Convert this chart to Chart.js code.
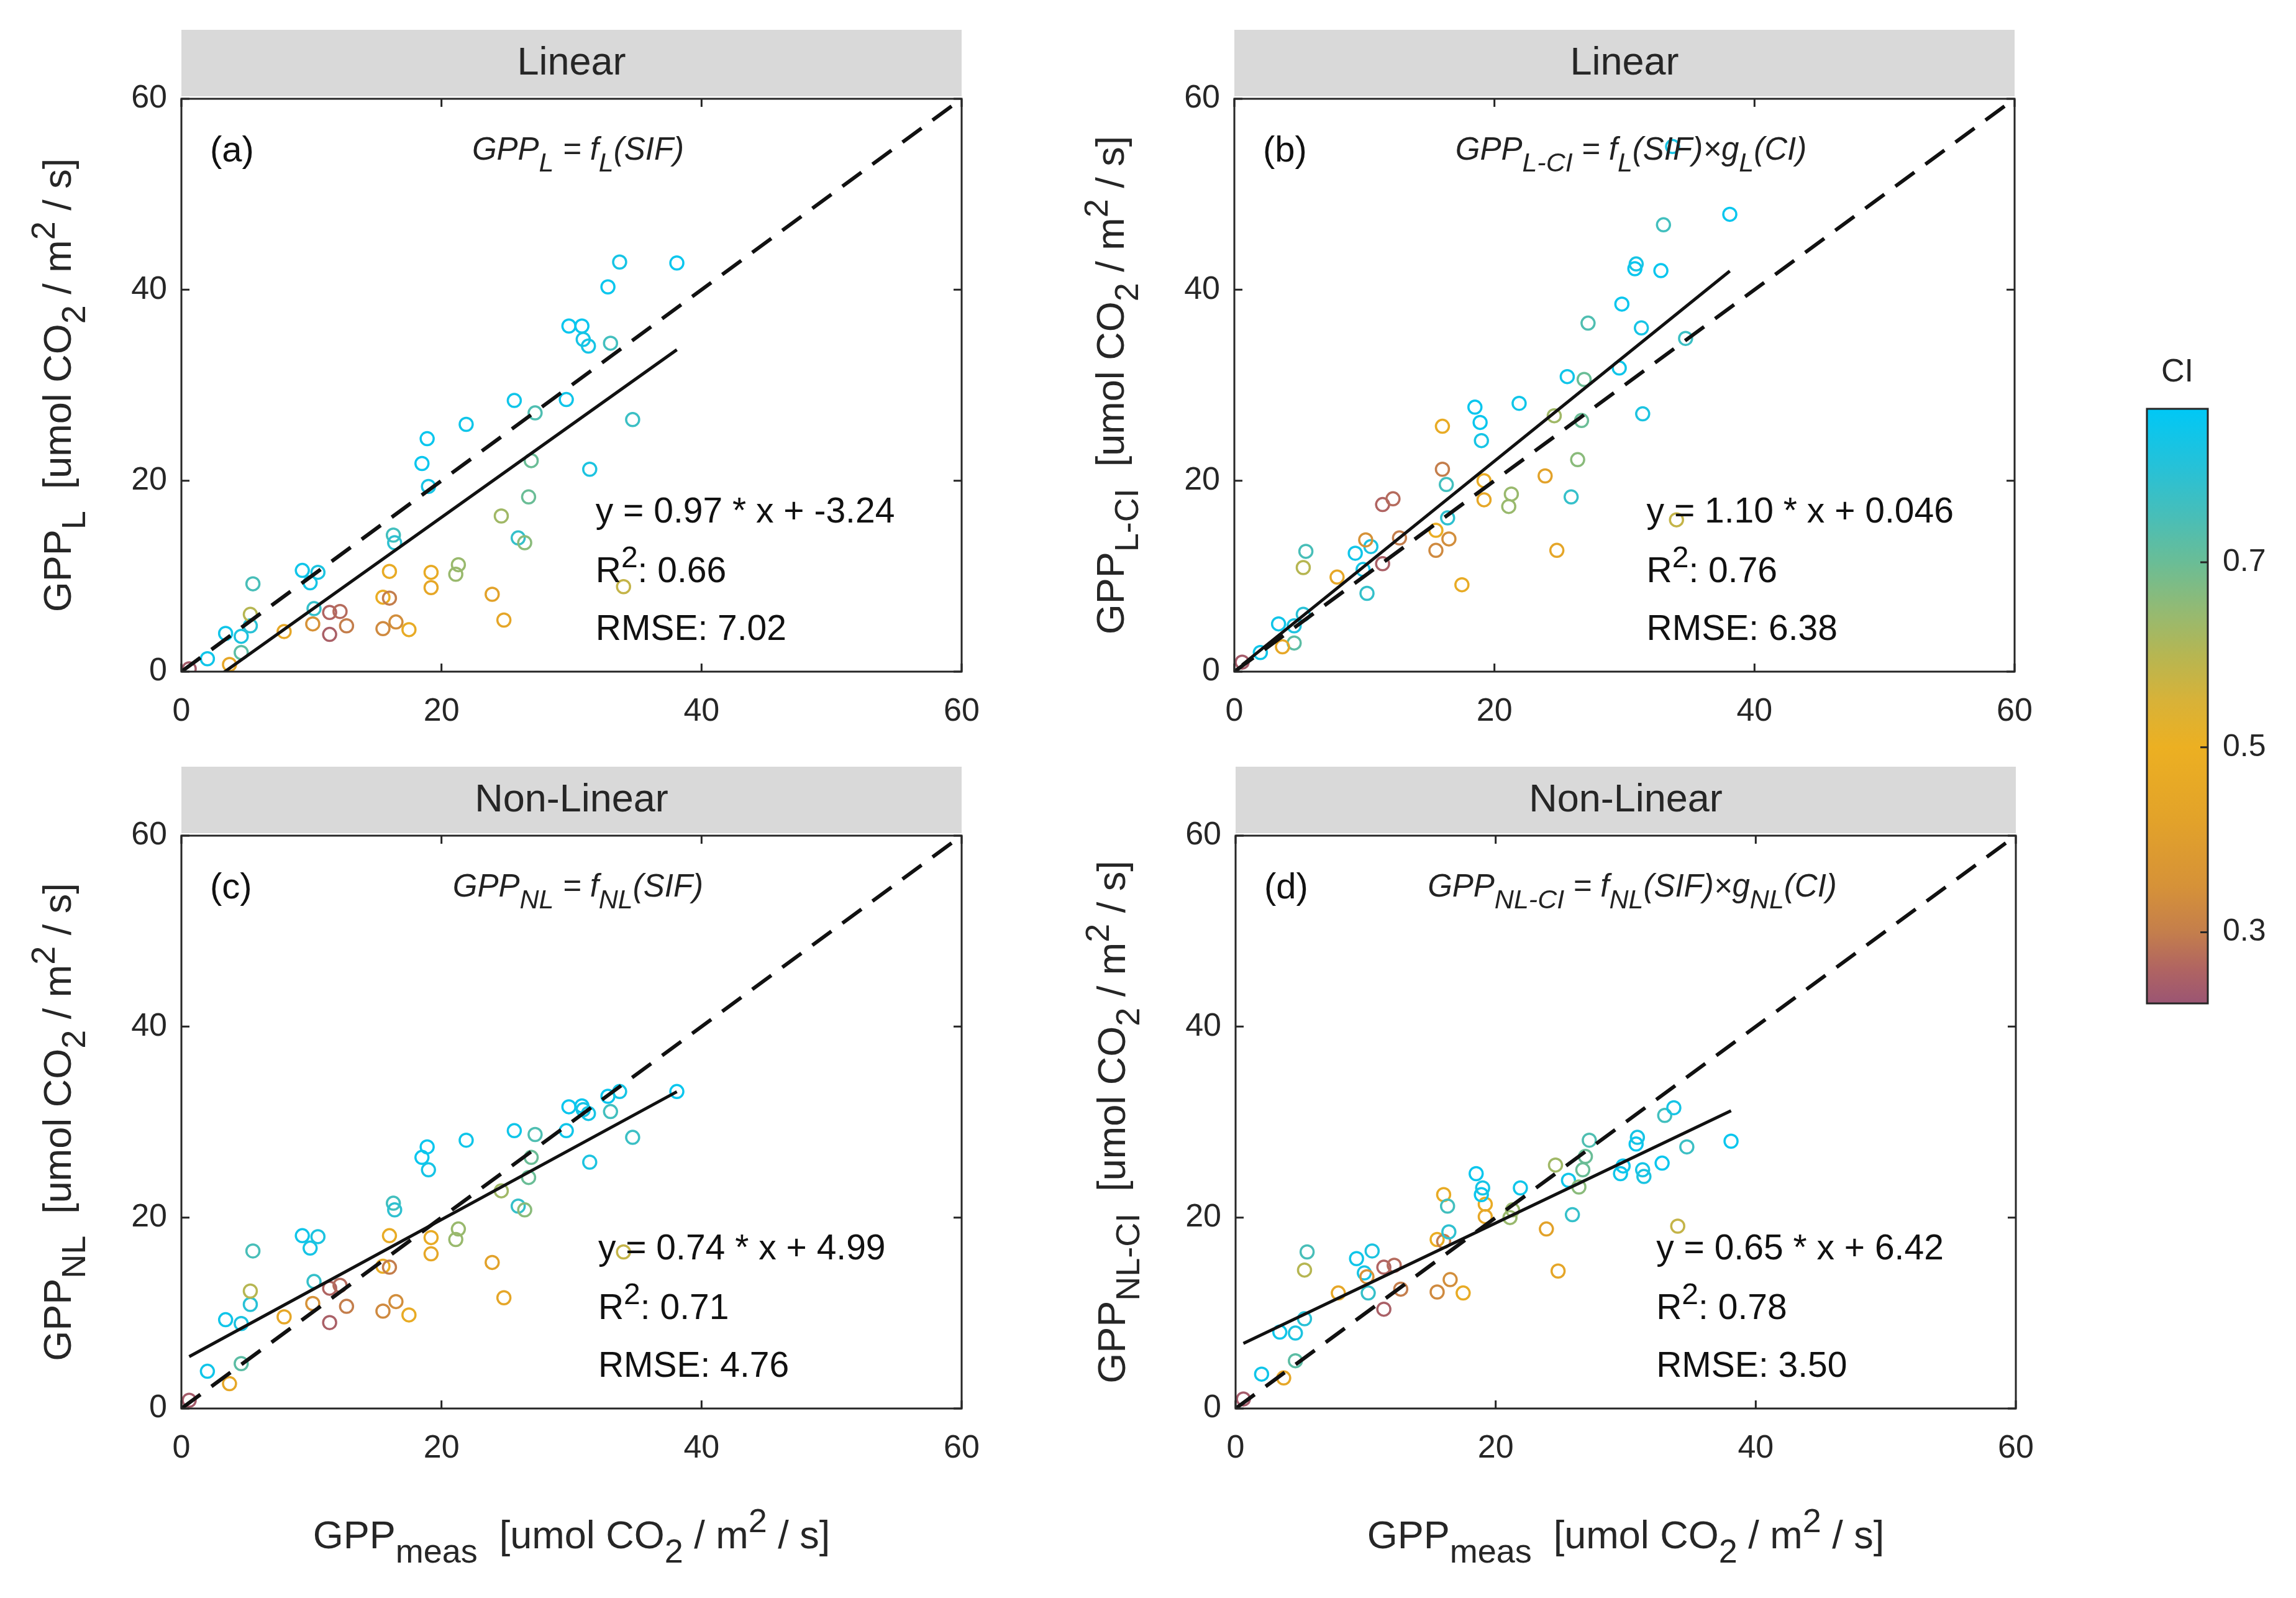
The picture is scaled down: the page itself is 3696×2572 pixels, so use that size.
<!DOCTYPE html>
<html>
<head>
<meta charset="utf-8">
<script src="https://cdn.jsdelivr.net/npm/chart.js@4.4.1/dist/chart.umd.min.js"></script>
<style>
html, body { margin: 0; padding: 0; background: #fff; }
#page { position: relative; width: 3696px; height: 2572px; background: #fff; overflow: hidden; }
canvas { position: absolute; }
</style>
</head>
<body>
<div id="page">
  <canvas id="panel-a" width="1690" height="1186" style="left:0px;top:0px"></canvas>
  <canvas id="panel-b" width="1690" height="1186" style="left:1695px;top:0px"></canvas>
  <canvas id="panel-c" width="1690" height="1386" style="left:0px;top:1186px"></canvas>
  <canvas id="panel-d" width="1690" height="1386" style="left:1697px;top:1186px"></canvas>
  <canvas id="colorbar" width="296" height="1200" style="left:3400px;top:500px"></canvas>
</div>
<script>
const FONT = "'Liberation Sans', Arial, Helvetica, sans-serif";
const INK = '#262626';

// axis ticks
const axisTicks = [0, 20, 40, 60];
const ciTicks = [0.3, 0.5, 0.7];
const ciMin = 0.223;
const ciMax = 0.866;

// measured GPP (shared x of every panel) and clumping index of each site-day
const gppMeas = [0.6, 2.0, 3.4, 4.6, 5.3, 4.6, 3.7, 5.3, 5.5, 7.9,
  9.3, 9.9, 10.5, 10.2, 10.1, 11.4, 12.2, 11.4, 12.7, 15.5,
  16.0, 16.0, 15.5, 16.5, 17.5, 16.3, 16.4, 19.2, 19.2, 18.5,
  18.9, 19.0, 21.9, 21.1, 21.3, 23.9, 24.8, 24.6, 25.6, 25.9,
  26.4, 26.7, 26.9, 27.2, 29.6, 29.8, 30.8, 30.9, 31.3, 31.4,
  32.8, 33.0, 33.7, 34.0, 34.7, 38.1];
const ciValues = [0.24, 0.84, 0.84, 0.82, 0.80, 0.72, 0.45, 0.60, 0.75, 0.45,
  0.84, 0.83, 0.82, 0.78, 0.35, 0.26, 0.27, 0.25, 0.30, 0.48,
  0.30, 0.47, 0.33, 0.34, 0.47, 0.76, 0.79, 0.47, 0.45, 0.85,
  0.85, 0.83, 0.84, 0.64, 0.64, 0.42, 0.44, 0.63, 0.84, 0.78,
  0.66, 0.70, 0.70, 0.74, 0.84, 0.85, 0.85, 0.83, 0.83, 0.82,
  0.85, 0.76, 0.83, 0.58, 0.77, 0.85];

// modelled GPP per panel
const gppL = [0.3, 1.35, 4.0, 3.7, 4.8, 2.0, 0.75, 6.0, 9.2, 4.2,
  10.6, 9.3, 10.4, 6.6, 5.0, 6.2, 6.3, 3.9, 4.8, 7.8,
  7.7, 10.5, 4.5, 5.2, 4.4, 14.3, 13.5, 10.4, 8.8, 21.8,
  24.4, 19.4, 25.9, 10.2, 11.2, 8.1, 5.4, 16.3, 28.4, 14.0,
  13.5, 18.3, 22.1, 27.1, 28.5, 36.2, 36.2, 34.8, 34.1, 21.2,
  40.3, 34.4, 42.9, 8.9, 26.4, 42.8];
const gppLCI = [1.0, 2.0, 5.0, 4.8, 6.0, 3.0, 2.6, 10.9, 12.6, 9.9,
  12.4, 10.7, 13.1, 8.2, 13.8, 17.5, 18.1, 11.3, 14.0, 14.8,
  21.2, 25.7, 12.7, 13.9, 9.1, 19.6, 16.1, 20.0, 18.0, 27.7,
  26.1, 24.2, 28.1, 17.3, 18.6, 20.5, 12.7, 26.8, 30.9, 18.3,
  22.2, 26.3, 30.6, 36.5, 31.8, 38.5, 42.2, 42.7, 36.0, 27.0,
  42.0, 46.8, 55.0, 15.9, 34.9, 47.9];
const gppNL = [0.86, 3.9, 9.3, 8.9, 10.9, 4.7, 2.6, 12.3, 16.5, 9.6,
  18.1, 16.8, 18.0, 13.3, 11.0, 12.6, 12.9, 9.0, 10.7, 14.9,
  14.8, 18.1, 10.2, 11.2, 9.8, 21.5, 20.8, 17.9, 16.2, 26.3,
  27.4, 25.0, 28.1, 17.7, 18.8, 15.3, 11.6, 22.8, 29.1, 21.2,
  20.8, 24.2, 26.3, 28.7, 29.1, 31.6, 31.7, 31.3, 30.9, 25.8,
  32.7, 31.1, 33.2, 16.4, 28.4, 33.2];
const gppNLCI = [1.0, 3.6, 8.0, 7.9, 9.4, 5.0, 3.2, 14.5, 16.4, 12.1,
  15.7, 14.2, 16.5, 12.1, 13.8, 14.8, 15.0, 10.4, 12.5, 17.7,
  17.5, 22.4, 12.2, 13.5, 12.1, 21.2, 18.5, 21.4, 20.1, 24.6,
  22.4, 23.1, 23.1, 20.0, 20.8, 18.8, 14.4, 25.5, 23.9, 20.3,
  23.2, 25.0, 26.4, 28.1, 24.6, 25.4, 27.7, 28.4, 25.0, 24.3,
  25.7, 30.7, 31.5, 19.1, 27.4, 28.0];

// fitted regression lines and statistics
const slopes = [0.97, 1.10, 0.74, 0.65];
const intercepts = [-3.24, 0.046, 4.99, 6.42];
const eqTexts = ['y = 0.97 * x + -3.24', 'y = 1.10 * x + 0.046', 'y = 0.74 * x + 4.99', 'y = 0.65 * x + 6.42'];
const r2Texts = ['0.66', '0.76', '0.71', '0.78'];
const rmseTexts = ['7.02', '6.38', '4.76', '3.50'];

const panelTitles = ['Linear', 'Linear', 'Non-Linear', 'Non-Linear'];
const panelTags = ['(a)', '(b)', '(c)', '(d)'];
const formulas = ['GPP_{L} = f_{L}(SIF)', 'GPP_{L-CI} = f_{L}(SIF)\u00d7g_{L}(CI)',
  'GPP_{NL} = f_{NL}(SIF)', 'GPP_{NL-CI} = f_{NL}(SIF)\u00d7g_{NL}(CI)'];
const yTitles = ['GPP_{L}  [umol CO_{2} / m^{2} / s]', 'GPP_{L-CI}  [umol CO_{2} / m^{2} / s]',
  'GPP_{NL}  [umol CO_{2} / m^{2} / s]', 'GPP_{NL-CI}  [umol CO_{2} / m^{2} / s]'];
const xTitle = 'GPP_{meas}  [umol CO_{2} / m^{2} / s]';

// colormap used for CI (purple -> orange -> green -> cyan)
const ciStops = [
  [0.223, [155, 85, 115]],
  [0.26, [176, 100, 98]],
  [0.30, [196, 126, 76]],
  [0.35, [214, 146, 56]],
  [0.42, [226, 162, 42]],
  [0.50, [236, 176, 34]],
  [0.55, [216, 178, 56]],
  [0.60, [182, 182, 82]],
  [0.65, [146, 186, 116]],
  [0.70, [106, 189, 150]],
  [0.75, [72, 190, 184]],
  [0.80, [40, 193, 214]],
  [0.866, [0, 200, 246]]
];

function ciColor(v) {
  if (v <= ciStops[0][0]) return 'rgb(' + ciStops[0][1].join(',') + ')';
  for (let i = 1; i < ciStops.length; i++) {
    const [v1, c1] = ciStops[i];
    const [v0, c0] = ciStops[i - 1];
    if (v <= v1) {
      const t = (v - v0) / (v1 - v0);
      const c = c0.map((a, k) => Math.round(a + (c1[k] - a) * t));
      return 'rgb(' + c.join(',') + ')';
    }
  }
  return 'rgb(' + ciStops[ciStops.length - 1][1].join(',') + ')';
}

// tiny tex-like parser: _{..} subscript, ^{..} superscript
function parseTex(s) {
  const out = [];
  let buf = '';
  let i = 0;
  while (i < s.length) {
    const c = s[i];
    if ((c === '_' || c === '^') && s[i + 1] === '{') {
      if (buf) { out.push({ t: buf, k: 0 }); buf = ''; }
      const end = s.indexOf('}', i);
      out.push({ t: s.slice(i + 2, end), k: c === '_' ? 1 : -1 });
      i = end + 1;
    } else {
      buf += c;
      i++;
    }
  }
  if (buf) out.push({ t: buf, k: 0 });
  return out;
}

function drawRich(ctx, str, x, y, size, align, style) {
  const segs = parseTex(str);
  const st = style ? style + ' ' : '';
  const fontFor = k => st + (k === 0 ? size : Math.round(size * 0.85)) + 'px ' + FONT;
  let total = 0;
  segs.forEach(s => { ctx.font = fontFor(s.k); s.w = ctx.measureText(s.t).width; total += s.w; });
  let cx = align === 'center' ? x - total / 2 : (align === 'right' ? x - total : x);
  ctx.textAlign = 'left';
  ctx.textBaseline = 'alphabetic';
  segs.forEach(s => {
    ctx.font = fontFor(s.k);
    const dy = s.k === 1 ? size * 0.36 : (s.k === -1 ? -size * 0.42 : 0);
    ctx.fillText(s.t, cx, y + dy);
    cx += s.w;
  });
}

const eqX = [31.85, 31.7, 32.05, 32.35];

function decorPlugin(idx, showXTitle) {
  return {
    id: 'decor' + idx,
    afterDraw(chart) {
      const { ctx, chartArea: a } = chart;
      const xs = chart.scales.x;
      const ys = chart.scales.y;
      const w = a.right - a.left;
      ctx.save();
      // grey header strip
      ctx.fillStyle = '#d9d9d9';
      ctx.fillRect(a.left, a.top - 111, w, 107);
      ctx.fillStyle = INK;
      ctx.font = '63px ' + FONT;
      ctx.textAlign = 'center';
      ctx.textBaseline = 'middle';
      ctx.fillText(panelTitles[idx], a.left + w / 2, a.top - 56);
      // axes box with inward ticks
      ctx.strokeStyle = INK;
      ctx.lineWidth = 3;
      ctx.strokeRect(a.left, a.top, w, a.bottom - a.top);
      ctx.beginPath();
      axisTicks.forEach(v => {
        const px = xs.getPixelForValue(v);
        const py = ys.getPixelForValue(v);
        ctx.moveTo(px, a.bottom); ctx.lineTo(px, a.bottom - 13);
        ctx.moveTo(px, a.top); ctx.lineTo(px, a.top + 13);
        ctx.moveTo(a.left, py); ctx.lineTo(a.left + 13, py);
        ctx.moveTo(a.right, py); ctx.lineTo(a.right - 13, py);
      });
      ctx.stroke();
      // panel tag and model formula
      ctx.fillStyle = '#111';
      drawRich(ctx, panelTags[idx], xs.getPixelForValue(2.2), ys.getPixelForValue(53.4), 58, 'left', '');
      ctx.fillStyle = '#222';
      drawRich(ctx, formulas[idx], xs.getPixelForValue(30.5), ys.getPixelForValue(53.6), 51, 'center', 'italic');
      // regression statistics
      ctx.fillStyle = '#111';
      const ex = xs.getPixelForValue(eqX[idx]);
      drawRich(ctx, eqTexts[idx], ex, ys.getPixelForValue(15.6), 57, 'left', '');
      drawRich(ctx, 'R^{2}: ' + r2Texts[idx], ex, ys.getPixelForValue(9.4), 57, 'left', '');
      drawRich(ctx, 'RMSE: ' + rmseTexts[idx], ex, ys.getPixelForValue(3.3), 57, 'left', '');
      // axis titles
      ctx.fillStyle = INK;
      ctx.save();
      ctx.translate(a.left - 178, (a.top + a.bottom) / 2);
      ctx.rotate(-Math.PI / 2);
      drawRich(ctx, yTitles[idx], 0, 0, 63, 'center', '');
      ctx.restore();
      if (showXTitle) {
        drawRich(ctx, xTitle, a.left + w / 2, a.bottom + 225, 63, 'center', '');
      }
      ctx.restore();
    }
  };
}

function makePanel(canvasId, idx, yValues, showXTitle) {
  const canvas = document.getElementById(canvasId);
  const H = canvas.height;
  const xLo = Math.min(...gppMeas);
  const xHi = Math.max(...gppMeas);
  const fit = [xLo, xHi].map(v => ({ x: v, y: slopes[idx] * v + intercepts[idx] }));
  const tickFont = { family: FONT, size: 52 };
  return new Chart(canvas.getContext('2d'), {
    type: 'scatter',
    data: {
      datasets: [
        {
          label: 'sites',
          data: gppMeas.map((v, i) => ({ x: v, y: yValues[i] })),
          pointRadius: 10.5,
          pointBorderWidth: 3.5,
          pointBackgroundColor: 'rgba(0,0,0,0)',
          pointBorderColor: ciValues.map(ciColor),
          order: 3
        },
        {
          label: '1:1',
          type: 'line',
          data: [{ x: 0, y: 0 }, { x: 60, y: 60 }],
          borderColor: '#111',
          borderWidth: 6,
          borderDash: [38, 22],
          pointRadius: 0,
          order: 1
        },
        {
          label: 'fit',
          type: 'line',
          data: fit,
          borderColor: '#111',
          borderWidth: 5,
          pointRadius: 0,
          order: 2
        }
      ]
    },
    options: {
      responsive: false,
      animation: false,
      events: [],
      layout: { autoPadding: false, padding: { left: 0, top: 159, right: canvas.width - 292 - 1256, bottom: H - 159 - 922 - 90 } },
      plugins: { legend: { display: false }, tooltip: { enabled: false } },
      scales: {
        x: {
          type: 'linear', min: 0, max: 60,
          afterBuildTicks: s => { s.ticks = axisTicks.map(v => ({ value: v })); },
          afterFit: s => { s.height = 90; },
          grid: { display: false, drawTicks: false },
          border: { display: false },
          ticks: { padding: 33, color: INK, font: tickFont, maxRotation: 0 }
        },
        y: {
          type: 'linear', min: 0, max: 60,
          afterBuildTicks: s => { s.ticks = axisTicks.map(v => ({ value: v })); },
          afterFit: s => { s.width = 292; },
          grid: { display: false, drawTicks: false },
          border: { display: false },
          ticks: { padding: 23, color: INK, font: tickFont }
        }
      }
    },
    plugins: [decorPlugin(idx, showXTitle)]
  });
}

makePanel('panel-a', 0, gppL, false);
makePanel('panel-b', 1, gppLCI, false);
makePanel('panel-c', 2, gppNL, true);
makePanel('panel-d', 3, gppNLCI, true);

// colour bar
const cbPlugin = {
  id: 'cbDecor',
  afterDraw(chart) {
    const { ctx, chartArea: a } = chart;
    const ys = chart.scales.y;
    ctx.save();
    ctx.strokeStyle = INK;
    ctx.lineWidth = 3;
    ctx.strokeRect(a.left, a.top, a.right - a.left, a.bottom - a.top);
    ctx.beginPath();
    ciTicks.forEach(v => {
      const py = ys.getPixelForValue(v);
      ctx.moveTo(a.right, py);
      ctx.lineTo(a.right - 12, py);
    });
    ctx.stroke();
    ctx.fillStyle = INK;
    ctx.font = '52px ' + FONT;
    ctx.textAlign = 'center';
    ctx.textBaseline = 'middle';
    ctx.fillText('CI', (a.left + a.right) / 2, a.top - 58);
    ctx.restore();
  }
};

new Chart(document.getElementById('colorbar').getContext('2d'), {
  type: 'bar',
  data: {
    labels: ['CI'],
    datasets: [{
      data: [[ciMin, ciMax]],
      barPercentage: 1,
      categoryPercentage: 1,
      borderWidth: 0,
      backgroundColor: c => {
        const area = c.chart.chartArea;
        if (!area) return '#ccc';
        const g = c.chart.ctx.createLinearGradient(0, area.bottom, 0, area.top);
        ciStops.forEach(([v, col]) => {
          g.addColorStop((v - ciMin) / (ciMax - ciMin), 'rgb(' + col.join(',') + ')');
        });
        return g;
      }
    }]
  },
  options: {
    responsive: false,
    animation: false,
    events: [],
    layout: { autoPadding: false, padding: { left: 56, top: 158, right: 0, bottom: 85 } },
    plugins: { legend: { display: false }, tooltip: { enabled: false } },
    scales: {
      x: { display: false },
      y: {
        position: 'right',
        min: ciMin, max: ciMax,
        afterBuildTicks: s => { s.ticks = ciTicks.map(v => ({ value: v })); },
        afterFit: s => { s.width = 142; },
        grid: { display: false, drawTicks: false },
        border: { display: false },
        ticks: { padding: 24, color: INK, font: { family: FONT, size: 50 }, callback: v => v.toFixed(1) }
      }
    }
  },
  plugins: [cbPlugin]
});
</script>
</body>
</html>
